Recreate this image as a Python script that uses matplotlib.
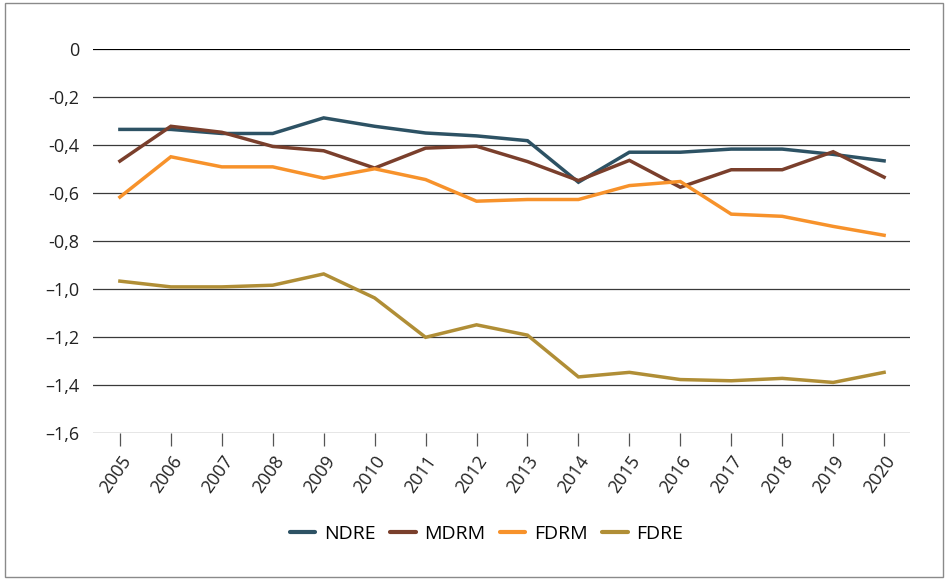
import matplotlib.pyplot as plt
from matplotlib.patches import Rectangle

# data series (index values per year)
years = list(range(2005, 2021))
ndre = [-0.335, -0.335, -0.352, -0.352, -0.287, -0.322, -0.35, -0.362, -0.382, -0.555,
        -0.43, -0.43, -0.417, -0.417, -0.439, -0.466]
mdrm = [-0.467, -0.322, -0.347, -0.406, -0.424, -0.496, -0.413, -0.405, -0.469, -0.548,
        -0.464, -0.576, -0.503, -0.503, -0.428, -0.534]
fdrm = [-0.617, -0.449, -0.491, -0.491, -0.538, -0.499, -0.544, -0.634, -0.627, -0.627,
        -0.569, -0.552, -0.688, -0.697, -0.739, -0.776]
fdre = [-0.967, -0.991, -0.991, -0.984, -0.937, -1.037, -1.201, -1.149, -1.192, -1.366,
        -1.347, -1.377, -1.382, -1.372, -1.389, -1.347]

series = [("NDRE", ndre, "#2d5264"), ("MDRM", mdrm, "#7a3f2c"),
          ("FDRM", fdrm, "#f7922b"), ("FDRE", fdre, "#b08e36")]

yticks = [0, -0.2, -0.4, -0.6, -0.8, -1.0, -1.2, -1.4, -1.6]
ylabels = ["0", "-0,2", "-0,4", "-0,6", "-0,8", "\u20131,0", "\u20131,2", "\u20131,4", "\u20131,6"]

plt.rcParams['font.family'] = ['Open Sans', 'DejaVu Sans']
plt.rcParams['font.size'] = 13

fig = plt.figure(figsize=(9.48, 5.79), dpi=100)
ax = fig.add_axes([0.098, 0.252, 0.862, 0.6634])

# horizontal reference lines
for v in yticks:
    if v == 0:
        ax.axhline(v, color="black", lw=1.6, zorder=1)
    else:
        ax.axhline(v, color="#3a3a3a", lw=0.9, zorder=1)

for name, vals, col in series:
    ax.plot(years, vals, color=col, lw=2.5, label=name, zorder=3,
            solid_joinstyle="miter")

ax.set_xlim(2004.47, 2020.51)
ax.set_ylim(-1.6, 0)
ax.set_yticks(yticks)
ax.set_yticklabels(ylabels)
ax.set_xticks(years)
ax.set_xticklabels([str(y) for y in years], rotation=55, ha="right",
                   rotation_mode="anchor")
ax.tick_params(axis="y", length=0, pad=10, labelcolor="#222222")
ax.tick_params(axis="x", length=9, width=0.9, color="#555555", pad=5,
               labelcolor="#222222", labelsize=13)
for s in ax.spines.values():
    s.set_visible(False)

leg = ax.legend(loc="center", bbox_to_anchor=(0.482, -0.262), ncol=4,
                frameon=False, fontsize=14, handlelength=1.3,
                handletextpad=0.45, columnspacing=0.75)
for h in leg.get_lines():
    h.set_linewidth(3)
    h.set_solid_capstyle("round")

# outer frame
fig.patches.append(Rectangle((0.005, 0.004), 0.99, 0.99, transform=fig.transFigure,
                             fill=False, edgecolor="#8a8a8a", lw=1))

fig.savefig("out.png", dpi=100)
